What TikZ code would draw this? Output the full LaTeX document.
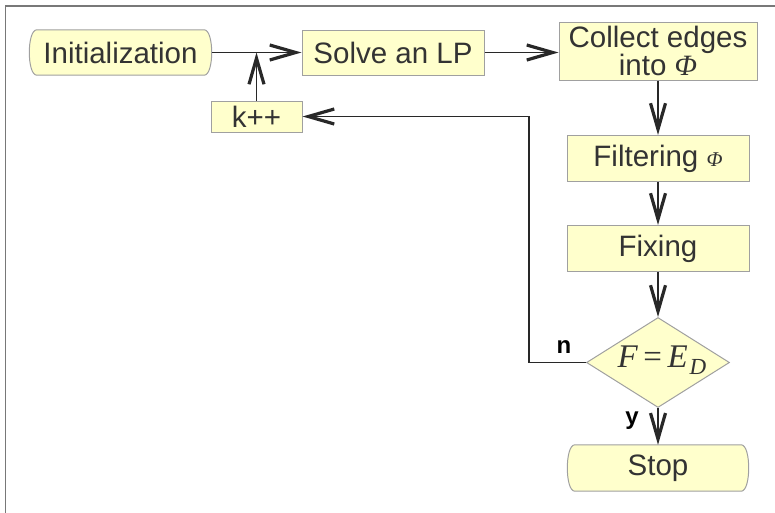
\documentclass[tikz,border=0pt]{standalone}
\usepackage{fontspec}
\setmainfont{Liberation Sans}
\newfontfamily\serifit{Liberation Serif}[ItalicFont={* Italic}]
\usetikzlibrary{arrows.meta,shapes.geometric}

\definecolor{boxfill}{RGB}{255,255,204}
\definecolor{boxline}{RGB}{160,160,160}
\definecolor{txt}{RGB}{51,51,51}
\definecolor{wire}{RGB}{40,40,40}
\definecolor{frameline}{RGB}{120,120,120}

\tikzset{
  base/.style={inner sep=0pt, text=txt, align=center,
    font=\fontsize{29.5}{26.5}\selectfont},
  procbox/.style={base, draw=boxline, fill=boxfill, line width=1pt},
  termbox/.style={base, draw=none, fill=none},
  decbox/.style={base, diamond, aspect=1.6, draw=boxline, fill=boxfill,
    line width=1pt},
  flow/.style={draw=wire, line width=1.2pt,
    -{Straight Barb[length=26pt,width=15pt,line width=3.2pt]}},
  plain/.style={draw=wire, line width=1.2pt},
  tag/.style={inner sep=0pt, font=\fontsize{24}{24}\selectfont\bfseries, text=black}
}

% rounded terminal outline drawn around a named node
\newcommand\termoutline[1]{%
  \draw[draw=boxline, fill=boxfill, line width=1pt]
    ([xshift=8pt]#1.north west) -- ([xshift=-8pt]#1.north east)
    .. controls ([xshift=2pt]#1.north east) and ([xshift=2pt]#1.south east) ..
    ([xshift=-8pt]#1.south east) -- ([xshift=8pt]#1.south west)
    .. controls ([xshift=-2pt]#1.south west) and ([xshift=-2pt]#1.north west) ..
    cycle;}

\begin{document}
\begin{tikzpicture}[x=1pt,y=-1pt]
\useasboundingbox (0,0) rectangle (775,512);

% outer frame
\draw[frameline, line width=1.6pt] (5.5,530) -- (5.5,6) -- (790,6);

% terminal shapes
\node[termbox, minimum width=183pt, minimum height=45pt] (init) at (120.5,52.5) {};
\node[termbox, minimum width=182pt, minimum height=46pt] (stop) at (658,468) {};
\termoutline{init}
\termoutline{stop}
\node[base] at (init.center) {Initialization};
\node[base] at (stop.center) {Stop};

% process boxes
\node[procbox, minimum width=182pt, minimum height=45pt] (solve) at (393,52.5) {Solve an LP};
\node[procbox, minimum width=198pt, minimum height=58pt] (collect) at (658,51)
  {Collect edges\\into {\serifit\itshape \char"03A6}};
\node[procbox, minimum width=91pt, minimum height=31pt] (kpp) at (256.5,116.5) {k++};
\node[procbox, minimum width=182pt, minimum height=46pt] (filter) at (658,158.5)
  {Filtering {\serifit\itshape\fontsize{21}{21}\selectfont \char"03A6}};
\node[procbox, minimum width=182pt, minimum height=46pt] (fix) at (658,248.5) {Fixing};

% decision
\node[decbox, minimum width=143pt, minimum height=90pt] (test) at (658,362.5) {};
\node[base, font=\fontsize{33}{33}\selectfont\serifit] at (662,360)
  {\itshape F\,\upshape=\,\itshape E\kern2pt\raisebox{-7pt}{\fontsize{23}{23}\selectfont D}};

% connectors
\coordinate (join) at (kpp.north |- init.east);
\draw[plain] (init.east) -- (join);
\draw[flow] (join) -- (solve.west);
\draw[flow] (kpp.north) -- (join);
\draw[flow] (solve.east) -- (collect.west |- solve.east);
\draw[flow] (collect.south) -- (filter.north);
\draw[flow] (filter.south) -- (fix.north);
\draw[flow] (fix.south) -- (test.north);
\draw[flow] (test.south) -- (stop.north);
\coordinate (bend1) at (529,362.5);
\coordinate (bend2) at (529,116.5);
\draw[flow] (test.west) -- (bend1) -- (bend2) -- (kpp.east);

% branch labels
\node[tag] at (564,347) {n};
\node[tag] at (632,421) {y};
\end{tikzpicture}
\end{document}
